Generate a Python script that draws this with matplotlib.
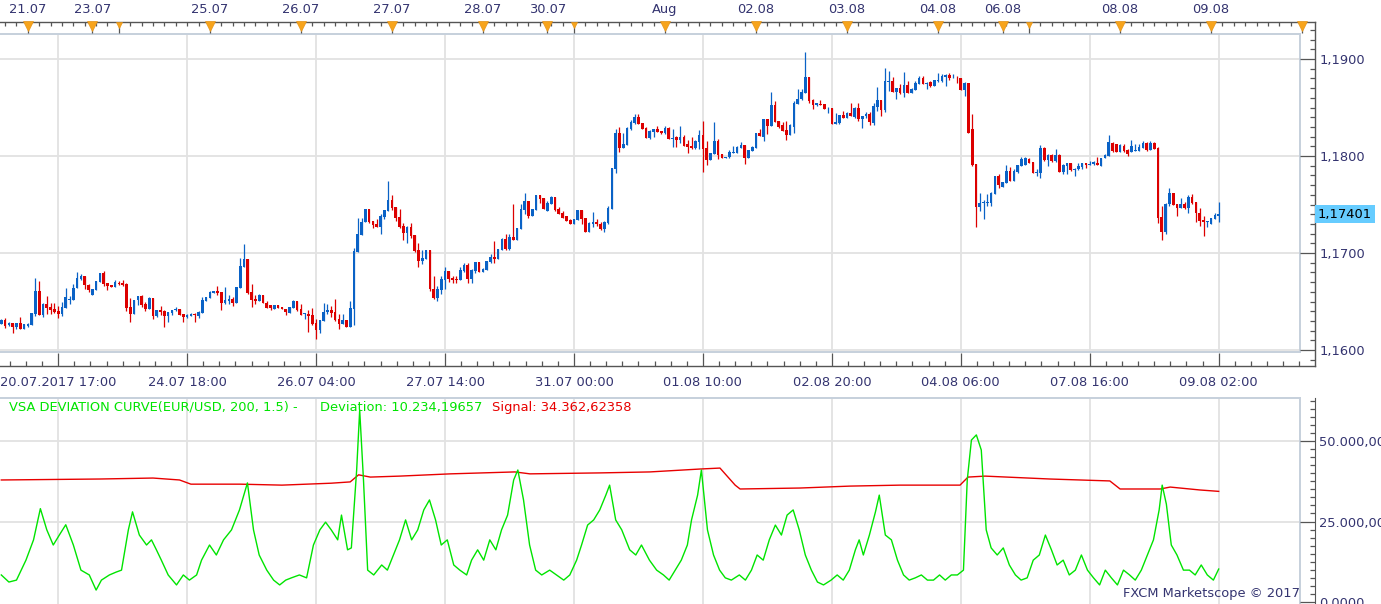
import numpy as np
import matplotlib.pyplot as plt
import matplotlib.transforms as mtransforms

plt.rcParams['font.family'] = ['DejaVu Sans']

# ---- hourly EUR/USD candles ----
opens = [
    1.16272, 1.16313, 1.16254, 1.16275, 1.16241, 1.16279, 1.16220, 1.16251, 1.16261, 1.16371,
    1.16608, 1.16364, 1.16474, 1.16443, 1.16423, 1.16402, 1.16375, 1.16437, 1.16516, 1.16520,
    1.16636, 1.16729, 1.16763, 1.16670, 1.16571, 1.16622, 1.16705, 1.16794, 1.16688, 1.16670,
    1.16653, 1.16694, 1.16688, 1.16681, 1.16443, 1.16375, 1.16512, 1.16557, 1.16474, 1.16420,
    1.16536, 1.16351, 1.16413, 1.16399, 1.16354, 1.16382, 1.16409, 1.16423, 1.16371, 1.16344,
    1.16354, 1.16371, 1.16354, 1.16382, 1.16509, 1.16536, 1.16591, 1.16608, 1.16598, 1.16488,
    1.16509, 1.16526, 1.16485, 1.16643, 1.16859, 1.16938, 1.16598, 1.16529, 1.16509, 1.16567,
    1.16481, 1.16461, 1.16426, 1.16464, 1.16447, 1.16423, 1.16382, 1.16437, 1.16505, 1.16423,
    1.16368, 1.16375, 1.16361, 1.16279, 1.16206, 1.16299, 1.16392, 1.16413, 1.16392, 1.16323,
    1.16268, 1.16309, 1.16241, 1.16426, 1.17014, 1.17189, 1.17316, 1.17454, 1.17327, 1.17303,
    1.17268, 1.17375, 1.17433, 1.17547, 1.17475, 1.17371, 1.17275, 1.17210, 1.17265, 1.17186,
    1.17028, 1.16918, 1.16942, 1.17031, 1.16633, 1.16533, 1.16615, 1.16718, 1.16815, 1.16746,
    1.16736, 1.16725, 1.16815, 1.16877, 1.16729, 1.16815, 1.16908, 1.16808, 1.16825, 1.16908,
    1.16959, 1.16942, 1.17035, 1.17141, 1.17038, 1.17165, 1.17134, 1.17251, 1.17444, 1.17536,
    1.17382, 1.17444, 1.17595, 1.17571, 1.17437, 1.17509, 1.17578, 1.17451, 1.17413, 1.17385,
    1.17344, 1.17303, 1.17341, 1.17444, 1.17361, 1.17220, 1.17303, 1.17316, 1.17303, 1.17248,
    1.17306, 1.17454, 1.17866, 1.18241, 1.18079, 1.18114, 1.18282, 1.18341, 1.18403, 1.18341,
    1.18293, 1.18183, 1.18251, 1.18275, 1.18258, 1.18241, 1.18293, 1.18179, 1.18200, 1.18165,
    1.18193, 1.18128, 1.18104, 1.18086, 1.18148, 1.18217, 1.18086, 1.17959, 1.18025, 1.18155,
    1.18021, 1.17976, 1.17990, 1.18035, 1.18035, 1.18086, 1.18114, 1.17980, 1.18052, 1.18086,
    1.18241, 1.18200, 1.18379, 1.18306, 1.18526, 1.18361, 1.18317, 1.18265, 1.18217, 1.18303,
    1.18540, 1.18585, 1.18653, 1.18815, 1.18578, 1.18523, 1.18540, 1.18540, 1.18492, 1.18495,
    1.18334, 1.18341, 1.18423, 1.18395, 1.18447, 1.18406, 1.18499, 1.18385, 1.18409, 1.18437,
    1.18344, 1.18505, 1.18574, 1.18475, 1.18767, 1.18774, 1.18660, 1.18701, 1.18646, 1.18732,
    1.18646, 1.18681, 1.18739, 1.18805, 1.18746, 1.18763, 1.18722, 1.18774, 1.18774, 1.18818,
    1.18835, 1.18801, 1.18808, 1.18805, 1.18681, 1.18753, 1.18279, 1.17914, 1.17478, 1.17516,
    1.17516, 1.17516, 1.17608, 1.17794, 1.17684, 1.17722, 1.17846, 1.17746, 1.17835, 1.17897,
    1.17907, 1.17973, 1.17938, 1.17825, 1.17825, 1.18086, 1.17959, 1.18011, 1.17949, 1.18011,
    1.17839, 1.17897, 1.17928, 1.17852, 1.17863, 1.17887, 1.17928, 1.17911, 1.17914, 1.17931,
    1.17900, 1.17976, 1.18000, 1.18138, 1.18121, 1.18045, 1.18104, 1.18062, 1.18042, 1.18052,
    1.18052, 1.18079, 1.18138, 1.18062, 1.18138, 1.18083, 1.17371, 1.17217, 1.17502, 1.17619,
    1.17505, 1.17464, 1.17509, 1.17467, 1.17581, 1.17526, 1.17413, 1.17340, 1.17320, 1.17303,
    1.17347, 1.17382,
]
highs = [
    1.16323, 1.16330, 1.16285, 1.16275, 1.16279, 1.16340, 1.16268, 1.16279, 1.16378, 1.16743,
    1.16712, 1.16485, 1.16557, 1.16488, 1.16485, 1.16450, 1.16495, 1.16639, 1.16557, 1.16684,
    1.16804, 1.16787, 1.16763, 1.16681, 1.16629, 1.16712, 1.16794, 1.16815, 1.16691, 1.16670,
    1.16722, 1.16712, 1.16718, 1.16688, 1.16540, 1.16516, 1.16560, 1.16567, 1.16495, 1.16547,
    1.16536, 1.16413, 1.16454, 1.16409, 1.16392, 1.16413, 1.16443, 1.16423, 1.16371, 1.16375,
    1.16382, 1.16382, 1.16402, 1.16550, 1.16547, 1.16608, 1.16608, 1.16660, 1.16598, 1.16650,
    1.16567, 1.16547, 1.16650, 1.16952, 1.17093, 1.16938, 1.16677, 1.16567, 1.16581, 1.16567,
    1.16505, 1.16464, 1.16468, 1.16464, 1.16447, 1.16423, 1.16443, 1.16519, 1.16505, 1.16471,
    1.16385, 1.16413, 1.16433, 1.16316, 1.16309, 1.16485, 1.16474, 1.16454, 1.16526, 1.16368,
    1.16368, 1.16309, 1.16505, 1.17048, 1.17365, 1.17365, 1.17454, 1.17454, 1.17334, 1.17354,
    1.17406, 1.17440, 1.17743, 1.17598, 1.17475, 1.17454, 1.17306, 1.17279, 1.17310, 1.17186,
    1.17100, 1.17031, 1.17031, 1.17031, 1.16763, 1.16660, 1.16763, 1.16856, 1.16815, 1.16763,
    1.16760, 1.16856, 1.16901, 1.16901, 1.16832, 1.16908, 1.16908, 1.16849, 1.16918, 1.16993,
    1.17124, 1.17045, 1.17158, 1.17193, 1.17193, 1.17502, 1.17262, 1.17502, 1.17619, 1.17536,
    1.17457, 1.17595, 1.17595, 1.17571, 1.17536, 1.17588, 1.17578, 1.17478, 1.17433, 1.17385,
    1.17351, 1.17351, 1.17444, 1.17444, 1.17361, 1.17320, 1.17423, 1.17351, 1.17320, 1.17330,
    1.17485, 1.17877, 1.18282, 1.18299, 1.18241, 1.18299, 1.18375, 1.18430, 1.18430, 1.18341,
    1.18299, 1.18272, 1.18275, 1.18310, 1.18258, 1.18310, 1.18299, 1.18275, 1.18210, 1.18310,
    1.18217, 1.18169, 1.18196, 1.18165, 1.18269, 1.18361, 1.18155, 1.18035, 1.18351, 1.18172,
    1.18021, 1.17994, 1.18059, 1.18100, 1.18104, 1.18148, 1.18114, 1.18062, 1.18104, 1.18241,
    1.18275, 1.18385, 1.18379, 1.18660, 1.18568, 1.18361, 1.18351, 1.18361, 1.18327, 1.18568,
    1.18688, 1.18691, 1.19073, 1.18815, 1.18591, 1.18550, 1.18574, 1.18540, 1.18509, 1.18495,
    1.18447, 1.18423, 1.18464, 1.18457, 1.18550, 1.18509, 1.18550, 1.18413, 1.18457, 1.18457,
    1.18550, 1.18712, 1.18574, 1.18904, 1.18877, 1.18818, 1.18705, 1.18746, 1.18866, 1.18774,
    1.18705, 1.18774, 1.18825, 1.18829, 1.18767, 1.18774, 1.18784, 1.18853, 1.18842, 1.18849,
    1.18859, 1.18842, 1.18825, 1.18805, 1.18760, 1.18753, 1.18437, 1.17914, 1.17619, 1.17543,
    1.17605, 1.17632, 1.17794, 1.17811, 1.17732, 1.17904, 1.17890, 1.17869, 1.17907, 1.17990,
    1.17990, 1.17983, 1.17938, 1.17863, 1.18114, 1.18093, 1.18024, 1.18018, 1.18069, 1.18018,
    1.17921, 1.17931, 1.17928, 1.17880, 1.17931, 1.17931, 1.17931, 1.17949, 1.17949, 1.17990,
    1.17983, 1.18018, 1.18217, 1.18145, 1.18128, 1.18121, 1.18121, 1.18069, 1.18162, 1.18121,
    1.18121, 1.18155, 1.18145, 1.18155, 1.18145, 1.18093, 1.17485, 1.17519, 1.17674, 1.17619,
    1.17505, 1.17571, 1.17526, 1.17598, 1.17605, 1.17526, 1.17467, 1.17385, 1.17330, 1.17361,
    1.17416, 1.17526,
]
lows = [
    1.16265, 1.16230, 1.16244, 1.16179, 1.16220, 1.16220, 1.16220, 1.16241, 1.16261, 1.16351,
    1.16364, 1.16344, 1.16368, 1.16368, 1.16385, 1.16333, 1.16347, 1.16437, 1.16471, 1.16520,
    1.16636, 1.16718, 1.16632, 1.16598, 1.16571, 1.16622, 1.16705, 1.16660, 1.16622, 1.16653,
    1.16653, 1.16674, 1.16660, 1.16402, 1.16292, 1.16375, 1.16468, 1.16443, 1.16402, 1.16420,
    1.16323, 1.16344, 1.16358, 1.16241, 1.16292, 1.16358, 1.16402, 1.16364, 1.16289, 1.16333,
    1.16347, 1.16289, 1.16333, 1.16378, 1.16509, 1.16536, 1.16591, 1.16567, 1.16413, 1.16478,
    1.16474, 1.16450, 1.16485, 1.16643, 1.16859, 1.16574, 1.16443, 1.16478, 1.16509, 1.16481,
    1.16430, 1.16409, 1.16426, 1.16437, 1.16419, 1.16364, 1.16382, 1.16437, 1.16406, 1.16364,
    1.16320, 1.16189, 1.16258, 1.16114, 1.16175, 1.16299, 1.16368, 1.16344, 1.16299, 1.16213,
    1.16265, 1.16241, 1.16241, 1.16261, 1.17014, 1.17189, 1.17316, 1.17313, 1.17255, 1.17265,
    1.17200, 1.17354, 1.17433, 1.17447, 1.17330, 1.17262, 1.17138, 1.17107, 1.17158, 1.17014,
    1.16859, 1.16883, 1.16942, 1.16608, 1.16523, 1.16505, 1.16574, 1.16629, 1.16705, 1.16694,
    1.16694, 1.16725, 1.16808, 1.16694, 1.16694, 1.16791, 1.16808, 1.16808, 1.16825, 1.16894,
    1.16901, 1.16942, 1.17031, 1.17028, 1.17031, 1.17134, 1.17134, 1.17251, 1.17399, 1.17365,
    1.17382, 1.17444, 1.17519, 1.17454, 1.17437, 1.17509, 1.17433, 1.17399, 1.17365, 1.17330,
    1.17303, 1.17303, 1.17341, 1.17296, 1.17220, 1.17220, 1.17265, 1.17282, 1.17241, 1.17220,
    1.17299, 1.17454, 1.17829, 1.18045, 1.18079, 1.18114, 1.18272, 1.18327, 1.18334, 1.18282,
    1.18186, 1.18176, 1.18196, 1.18248, 1.18231, 1.18224, 1.18179, 1.18093, 1.18093, 1.18138,
    1.18104, 1.18035, 1.18069, 1.18076, 1.18069, 1.17839, 1.17908, 1.17959, 1.18018, 1.17970,
    1.17976, 1.17976, 1.17976, 1.18035, 1.18028, 1.18079, 1.17915, 1.17980, 1.18052, 1.18086,
    1.18207, 1.18155, 1.18224, 1.18306, 1.18351, 1.18293, 1.18258, 1.18165, 1.18217, 1.18241,
    1.18533, 1.18574, 1.18653, 1.18550, 1.18488, 1.18516, 1.18523, 1.18488, 1.18447, 1.18334,
    1.18334, 1.18334, 1.18389, 1.18389, 1.18413, 1.18389, 1.18361, 1.18292, 1.18396, 1.18320,
    1.18320, 1.18464, 1.18416, 1.18454, 1.18670, 1.18664, 1.18591, 1.18636, 1.18612, 1.18650,
    1.18646, 1.18681, 1.18739, 1.18746, 1.18694, 1.18712, 1.18722, 1.18767, 1.18767, 1.18722,
    1.18780, 1.18801, 1.18756, 1.18681, 1.18619, 1.18241, 1.17897, 1.17268, 1.17433, 1.17354,
    1.17485, 1.17481, 1.17608, 1.17674, 1.17684, 1.17722, 1.17742, 1.17746, 1.17828, 1.17897,
    1.17907, 1.17931, 1.17828, 1.17794, 1.17770, 1.17949, 1.17897, 1.17942, 1.17942, 1.17839,
    1.17818, 1.17818, 1.17846, 1.17794, 1.17852, 1.17863, 1.17880, 1.17911, 1.17907, 1.17904,
    1.17897, 1.17976, 1.18000, 1.18045, 1.18045, 1.18045, 1.18045, 1.18000, 1.18042, 1.18052,
    1.18052, 1.18079, 1.18052, 1.18062, 1.18069, 1.17313, 1.17131, 1.17200, 1.17485, 1.17498,
    1.17382, 1.17464, 1.17457, 1.17416, 1.17502, 1.17323, 1.17279, 1.17175, 1.17272, 1.17303,
    1.17347, 1.17320,
]
closes = [
    1.16313, 1.16248, 1.16275, 1.16241, 1.16279, 1.16220, 1.16268, 1.16268, 1.16378, 1.16608,
    1.16364, 1.16474, 1.16430, 1.16413, 1.16395, 1.16371, 1.16443, 1.16547, 1.16523, 1.16639,
    1.16743, 1.16760, 1.16667, 1.16615, 1.16629, 1.16712, 1.16794, 1.16684, 1.16657, 1.16653,
    1.16698, 1.16681, 1.16670, 1.16437, 1.16375, 1.16516, 1.16553, 1.16468, 1.16423, 1.16536,
    1.16351, 1.16413, 1.16392, 1.16354, 1.16392, 1.16413, 1.16426, 1.16364, 1.16344, 1.16364,
    1.16371, 1.16361, 1.16388, 1.16516, 1.16547, 1.16598, 1.16608, 1.16591, 1.16488, 1.16516,
    1.16529, 1.16481, 1.16650, 1.16866, 1.16938, 1.16591, 1.16519, 1.16509, 1.16567, 1.16481,
    1.16437, 1.16430, 1.16468, 1.16437, 1.16419, 1.16388, 1.16443, 1.16505, 1.16416, 1.16364,
    1.16378, 1.16354, 1.16272, 1.16206, 1.16309, 1.16395, 1.16413, 1.16382, 1.16313, 1.16268,
    1.16309, 1.16241, 1.16433, 1.17021, 1.17196, 1.17323, 1.17454, 1.17323, 1.17289, 1.17268,
    1.17382, 1.17440, 1.17547, 1.17468, 1.17365, 1.17272, 1.17210, 1.17268, 1.17179, 1.17021,
    1.16918, 1.16952, 1.17031, 1.16633, 1.16533, 1.16629, 1.16729, 1.16815, 1.16729, 1.16722,
    1.16722, 1.16822, 1.16877, 1.16732, 1.16822, 1.16908, 1.16808, 1.16832, 1.16918, 1.16962,
    1.16942, 1.17045, 1.17141, 1.17038, 1.17165, 1.17134, 1.17262, 1.17457, 1.17536, 1.17378,
    1.17457, 1.17595, 1.17557, 1.17457, 1.17519, 1.17578, 1.17440, 1.17402, 1.17365, 1.17330,
    1.17303, 1.17351, 1.17444, 1.17347, 1.17220, 1.17310, 1.17320, 1.17296, 1.17248, 1.17320,
    1.17464, 1.17877, 1.18241, 1.18086, 1.18121, 1.18289, 1.18351, 1.18403, 1.18334, 1.18282,
    1.18186, 1.18262, 1.18275, 1.18248, 1.18241, 1.18293, 1.18179, 1.18189, 1.18169, 1.18196,
    1.18107, 1.18093, 1.18086, 1.18155, 1.18217, 1.18073, 1.17959, 1.18035, 1.18155, 1.18014,
    1.17976, 1.17994, 1.18042, 1.18042, 1.18093, 1.18114, 1.17983, 1.18062, 1.18097, 1.18241,
    1.18207, 1.18379, 1.18310, 1.18526, 1.18351, 1.18303, 1.18258, 1.18217, 1.18317, 1.18550,
    1.18592, 1.18660, 1.18815, 1.18567, 1.18523, 1.18543, 1.18530, 1.18488, 1.18499, 1.18334,
    1.18351, 1.18423, 1.18395, 1.18447, 1.18413, 1.18499, 1.18385, 1.18413, 1.18437, 1.18354,
    1.18516, 1.18574, 1.18478, 1.18774, 1.18777, 1.18664, 1.18698, 1.18646, 1.18732, 1.18650,
    1.18688, 1.18756, 1.18805, 1.18746, 1.18756, 1.18722, 1.18784, 1.18784, 1.18825, 1.18835,
    1.18801, 1.18808, 1.18801, 1.18681, 1.18753, 1.18241, 1.17904, 1.17474, 1.17516, 1.17526,
    1.17526, 1.17619, 1.17794, 1.17701, 1.17732, 1.17846, 1.17742, 1.17846, 1.17907, 1.17973,
    1.17976, 1.17931, 1.17828, 1.17832, 1.18086, 1.17963, 1.18011, 1.17949, 1.18011, 1.17839,
    1.17907, 1.17928, 1.17852, 1.17870, 1.17897, 1.17925, 1.17911, 1.17921, 1.17938, 1.17907,
    1.17983, 1.18011, 1.18148, 1.18052, 1.18045, 1.18114, 1.18052, 1.18024, 1.18104, 1.18066,
    1.18097, 1.18134, 1.18059, 1.18138, 1.18076, 1.17361, 1.17217, 1.17509, 1.17619, 1.17498,
    1.17464, 1.17502, 1.17464, 1.17581, 1.17519, 1.17409, 1.17330, 1.17323, 1.17330, 1.17361,
    1.17392, 1.17401,
]
last_price = 1.17401

# ---- VSA deviation curve (bar position, value) ----
dev_x = [0, 2, 4, 6.5, 8.5, 10.3, 12, 13.7, 15.3, 17, 19, 21, 23.2, 25, 26.4, 28.5, 30.3, 31.7,
         33.5, 34.6, 36.4, 38.3, 39.6, 40.9, 42.2, 44, 46.2, 48, 49.6, 51.5, 52.8, 54.9, 56.7,
         58.6, 60.7, 62.8, 64.9, 66.5, 68, 70, 71.8, 73.4, 75, 76.5, 78.6, 80.5, 82.3, 84, 85.5,
         87, 88.7, 89.7, 91.3, 92.3, 93.7, 94.5, 95.5, 96.6, 98.2, 100.3, 101.8, 103.4, 105,
         106.6, 108.2, 109.8, 111.4, 112.9, 114.5, 116, 117.6, 119.3, 120.9, 122.7, 124, 125.6,
         127.2, 128.8, 130.4, 131.9, 133.5, 135.1, 136.2, 137.7, 139.3, 140.9, 142.5, 144.6,
         146.4, 148.3, 149.9, 151.7, 153, 154.6, 156.2, 157.8, 159.4, 160.4, 162, 163.6, 165.7,
         167.3, 168.8, 170.9, 172.8, 174.6, 176.1, 177.7, 179.3, 180.9, 182, 183.6, 184.6,
         186.2, 187.8, 189.4, 190.9, 192.5, 194.6, 196.2, 197.8, 199.3, 200.9, 202.5, 204.1,
         205.7, 207.2, 208.8, 210.4, 212, 213.6, 215.2, 216.8, 218.8, 220.4, 222, 223.6, 225.2,
         226.2, 227.3, 228.9, 230.5, 231.5, 233.1, 234.7, 236.3, 237.9, 239.4, 241, 242.6,
         244.2, 245.8, 247.4, 248.9, 250.5, 252.1, 253.7, 254.7, 255.8, 257.1, 258.4, 259.7,
         261, 262.6, 264.2, 265.8, 267.4, 268.9, 270.5, 272.1, 273.7, 275.3, 276.9, 278.4, 280,
         281.6, 283.2, 284.8, 286.4, 288, 289.6, 291.1, 292.7, 294.3, 295.9, 297.5, 299, 300.6,
         302.2, 303.8, 305.3, 306.1, 307.2, 308.5, 310, 311.7, 313.3, 314.8, 316.4, 318, 319.6,
         321]
dev_vals = [8400, 6200, 6800, 13000, 19300, 29000, 22400, 17700, 20800, 24000, 17700, 9900,
            8400, 3700, 6800, 8400, 9300, 9900, 22400, 28000, 20800, 17700, 19300, 16200, 13000,
            8400, 5300, 8400, 6800, 8400, 13000, 17700, 14600, 19300, 22400, 28600, 37000, 22400,
            14600, 9900, 6800, 5300, 6800, 7500, 8400, 7500, 17700, 22400, 24800, 22400, 19300,
            27000, 16200, 16800, 41000, 59600, 37900, 9900, 8400, 11500, 9900, 14600, 19300,
            25500, 19300, 22400, 28600, 31700, 25500, 17700, 19300, 11500, 9900, 8400, 13000,
            16200, 13000, 19300, 16200, 22400, 27000, 37900, 41000, 31700, 17700, 9900, 8400,
            9900, 8400, 6800, 8400, 13000, 17700, 23900, 25500, 28600, 33200, 36300, 25500, 22400,
            16200, 14600, 17700, 13000, 9900, 8400, 6800, 9900, 13000, 17700, 25500, 33200, 41000,
            22400, 14600, 9900, 7500, 6800, 8400, 6800, 9900, 14600, 13000, 19300, 23900, 20800,
            27000, 28600, 22400, 14600, 9900, 6200, 5300, 6800, 8400, 6800, 9900, 16200, 19300,
            14600, 20800, 28000, 33200, 20800, 19300, 13000, 8400, 6800, 7500, 8400, 6800, 6800,
            8400, 6800, 8400, 8400, 9900, 37900, 50300, 51900, 47200, 22400, 16800, 14600, 16800,
            11500, 8400, 6800, 7500, 13000, 14600, 20800, 16200, 11500, 13000, 8400, 9900, 14600,
            9900, 7500, 5300, 9900, 7500, 5300, 9900, 8400, 6800, 9900, 14600, 19300, 28600, 36300,
            30400, 17700, 14600, 9900, 9900, 8400, 11500, 8400, 6800, 10234]

# ---- signal line ----
sig_x = [0, 26, 40, 47, 50, 63, 74, 87, 92, 94.2, 97.3, 105, 118.4, 135.4, 139.4, 158, 171,
         184.2, 189.5, 193.5, 194.8, 210.6, 223.8, 237, 252.8, 254.9, 259.4, 276.5, 292.3, 295,
         305.6, 308.2, 316, 321]
sig_vals = [37900, 38200, 38500, 37900, 36600, 36600, 36300, 36900, 37300, 39500, 38800, 39100,
            39800, 40400, 39800, 40100, 40400, 41300, 41600, 36300, 35100, 35400, 36000, 36300,
            36300, 38800, 39100, 38200, 37600, 35100, 35100, 35700, 34800, 34363]

# ---- axis ticks and labels ----
day_bars = [7, 24, 31, 55, 79, 103, 127, 144, 151, 175, 199, 223, 247, 264, 271, 295, 319, 343]
day_labels = ['21.07', '23.07', '', '25.07', '26.07', '27.07', '28.07', '30.07', '', 'Aug',
              '02.08', '03.08', '04.08', '06.08', '', '08.08', '09.08', '']
time_bars = [15, 49, 83, 117, 151, 185, 219, 253, 287, 321]
time_labels = ['20.07.2017 17:00', '24.07 18:00', '26.07 04:00', '27.07 14:00', '31.07 00:00',
               '01.08 10:00', '02.08 20:00', '04.08 06:00', '07.08 16:00', '09.08 02:00']
price_ticks = [1.16, 1.17, 1.18, 1.19]
price_labels = ['1,1600', '1,1700', '1,1800', '1,1900']
ind_ticks = [0, 25000, 50000]
ind_labels = ['0,0000', '25.000,00', '50.000,00']

# ---- colours ----
BLUE = '#0a62c6'
RED = '#dc0000'
GREEN = '#00e400'
SIGRED = '#e80000'
NAVY = '#343470'
GRID = '#e2e2e2'
BORDER = '#c6d0dc'
AXLINE = '#555555'
FS = 9.4

# ---- pixel layout helpers (image is 1381 x 604) ----
W, H = 1381, 604
BAR0, BARW = 1.3, 3.7925


def box(x0, y0, x1, y1):
    return [x0 / W, 1 - y1 / H, (x1 - x0) / W, (y1 - y0) / H]


def bar_lim(x0, x1):
    return ((x0 - BAR0) / BARW, (x1 - BAR0) / BARW)


def price_lim(y0, y1):
    return (1.19 - (y1 - 59) / 9700, 1.19 - (y0 - 59) / 9700)


def ind_lim(y0, y1):
    return ((602 - y1) * 310.6, (602 - y0) * 310.6)


def px(n):
    return n * 72 / 100


fig = plt.figure(figsize=(W / 100, H / 100), dpi=100)
fig.patch.set_facecolor('white')

# main candle panel
ax = fig.add_axes(box(0, 34, 1300, 352))
for b in time_bars:
    ax.axvline(b, color=GRID, lw=1.3, zorder=0)
for p in price_ticks:
    ax.axhline(p, color=GRID, lw=1.3, zorder=0)

o = np.array(opens)
hi = np.array(highs)
lo = np.array(lows)
c = np.array(closes)
x = np.arange(len(o))
cols = np.where(c >= o, BLUE, RED)
ax.vlines(x, lo, hi, colors=cols, lw=0.9, zorder=2)
body = np.maximum(np.abs(c - o), 0.000012)
ax.bar(x, body, bottom=np.minimum(o, c), width=0.7, color=cols, linewidth=0, zorder=3)

ax.set_xticks([])
ax.set_yticks([])
ax.set_xlim(*bar_lim(0, 1300))
ax.set_ylim(*price_lim(34, 352))
ax.spines['left'].set_visible(False)
for s in ['top', 'right', 'bottom']:
    ax.spines[s].set_color(BORDER)
    ax.spines[s].set_linewidth(1.4)

# price / time frame around the main panel
fr = fig.add_axes(box(0, 22, 1315, 366))
fr.patch.set_alpha(0)
fr.spines['left'].set_visible(False)
for s in ['top', 'right', 'bottom']:
    fr.spines[s].set_color(AXLINE)
    fr.spines[s].set_linewidth(1.0)
fr.yaxis.tick_right()
fr.set_yticks(price_ticks)
fr.set_yticklabels(price_labels)
fr.set_yticks(np.arange(1.159, 1.1935, 0.001), minor=True)
fr.tick_params(axis='y', which='major', direction='in', length=px(15), width=0.9,
               color=AXLINE, labelsize=FS, labelcolor=NAVY, pad=3)
fr.tick_params(axis='y', which='minor', direction='in', length=px(5), width=0.9, color=AXLINE)
fr.set_xticks(time_bars)
fr.set_xticklabels(time_labels)
minor_bottom = [b + 4.25 * j for b in [-19] + time_bars for j in range(1, 8)]
fr.set_xticks([m for m in minor_bottom if 0 < m < 346], minor=True)
fr.tick_params(axis='x', which='major', direction='in', length=px(13), width=0.9,
               color=AXLINE, labelsize=FS, labelcolor=NAVY, pad=7)
fr.tick_params(axis='x', which='minor', direction='in', length=px(5), width=0.9, color=AXLINE)
fr.set_xlim(*bar_lim(0, 1315))
fr.set_ylim(*price_lim(22, 366))

top = fr.twiny()
top.patch.set_alpha(0)
for s in top.spines.values():
    s.set_visible(False)
top.set_xticks(day_bars)
top.set_xticklabels(day_labels)
top.set_xticks(np.arange(1, 346, 3), minor=True)
top.tick_params(axis='x', which='major', direction='in', length=px(11), width=0.9,
                color=AXLINE, labelsize=FS, labelcolor=NAVY, pad=4)
top.tick_params(axis='x', which='minor', direction='in', length=px(4), width=0.9, color=AXLINE)
top.set_xlim(*bar_lim(0, 1315))
fr.set_ylim(*price_lim(22, 366))
tri = mtransforms.blended_transform_factory(top.transData, top.transAxes)
big = [b for b, t in zip(day_bars, day_labels) if t or b == day_bars[-1]]
small = [b for b, t in zip(day_bars, day_labels) if not t and b != day_bars[-1]]
top.plot(big, [0.9875] * len(big), 'v', color='#f7a41c', ms=7, mec='#e8961a', mew=0.5,
         transform=tri, clip_on=False, zorder=5)
top.plot(small, [0.9915] * len(small), 'v', color='#f7a41c', ms=4.5, mec='#e8961a', mew=0.5,
         transform=tri, clip_on=False, zorder=5)

fr.annotate(f'{last_price:.5f}'.replace('.', ','), xy=(1, last_price),
            xycoords=('axes fraction', 'data'), xytext=(px(3), 0), textcoords='offset points',
            ha='left', va='center', fontsize=FS, color='black',
            bbox=dict(boxstyle='square,pad=0.22', fc='#66ccff', ec='none'))

# indicator panel
ai = fig.add_axes(box(0, 398, 1300, 604))
for b in time_bars:
    ai.axvline(b, color=GRID, lw=1.3, zorder=0)
for v in ind_ticks[1:]:
    ai.axhline(v, color=GRID, lw=1.3, zorder=0)
ai.plot(sig_x, sig_vals, color=SIGRED, lw=1.0, zorder=3)
ai.plot(dev_x, dev_vals, color=GREEN, lw=1.0, zorder=4)
ai.set_xticks([])
ai.set_yticks([])
ai.set_xlim(*bar_lim(0, 1300))
ai.set_ylim(*ind_lim(398, 604))
ai.spines['left'].set_visible(False)
ai.spines['bottom'].set_visible(False)
for s in ['top', 'right']:
    ai.spines[s].set_color(BORDER)
    ai.spines[s].set_linewidth(1.4)

fi = fig.add_axes(box(0, 398, 1315, 604))
fi.patch.set_alpha(0)
for s in ['left', 'top', 'bottom']:
    fi.spines[s].set_visible(False)
fi.spines['right'].set_color(AXLINE)
fi.set_xticks([])
fi.yaxis.tick_right()
fi.set_yticks(ind_ticks)
fi.set_yticklabels(ind_labels)
fi.set_yticks(np.arange(0, 63000, 2500), minor=True)
fi.tick_params(axis='y', which='major', direction='in', length=px(15), width=0.9,
               color=AXLINE, labelsize=FS, labelcolor=NAVY, pad=3)
fi.tick_params(axis='y', which='minor', direction='in', length=px(5), width=0.9, color=AXLINE)
fi.set_xlim(*bar_lim(0, 1315))
fi.set_ylim(*ind_lim(398, 604))

# indicator caption
fy = 1 - 407 / H
fig.text(9 / W, fy, 'VSA DEVIATION CURVE(EUR/USD, 200, 1.5) -', color=GREEN, fontsize=FS, va='center')
fig.text(320 / W, fy, 'Deviation: 10.234,19657', color=GREEN, fontsize=FS, va='center')
fig.text(492 / W, fy, 'Signal: 34.362,62358', color=SIGRED, fontsize=FS, va='center')
fig.text(1300 / W, 1 - 594 / H, 'FXCM Marketscope \u00a9 2017', color=NAVY, fontsize=FS,
         ha='right', va='center')

fig.savefig('out.png', dpi=100, facecolor='white')
